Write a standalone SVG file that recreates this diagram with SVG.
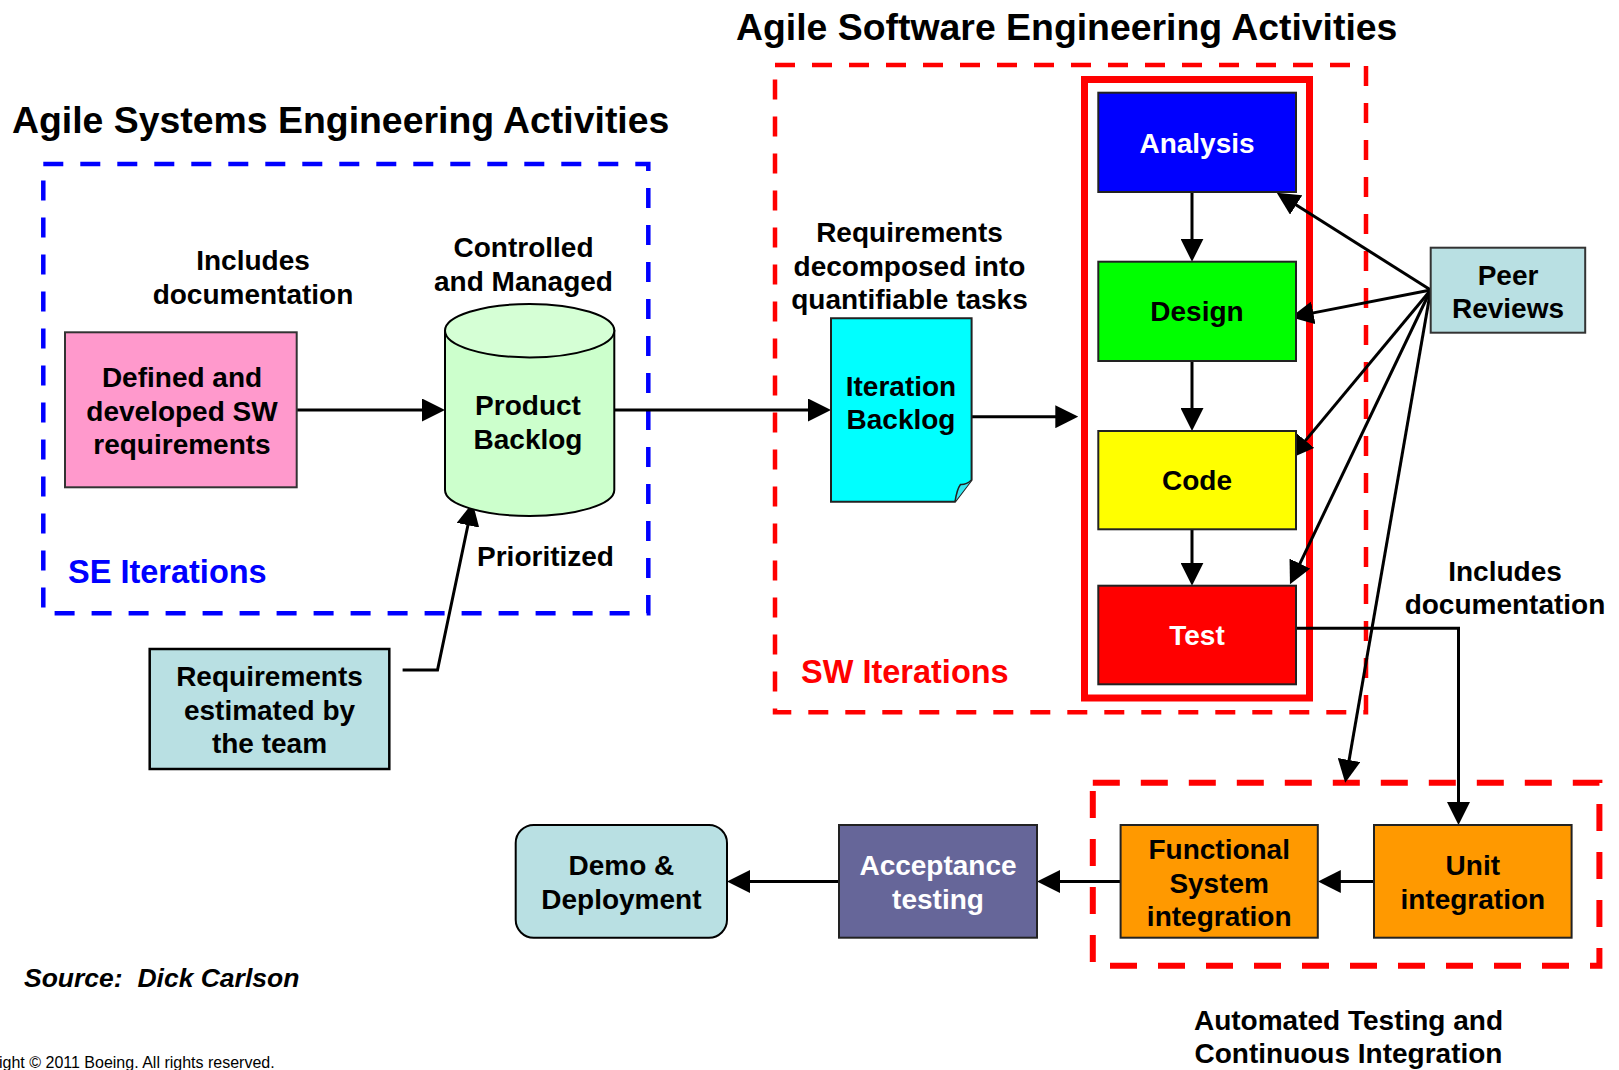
<svg xmlns="http://www.w3.org/2000/svg" width="1619" height="1070" viewBox="0 0 1619 1070">
<defs>
<marker id="ah" viewBox="0 0 23 23" markerWidth="23" markerHeight="23" markerUnits="userSpaceOnUse" refX="13" refY="11.5" orient="auto">
<path d="M0,0 L23,11.5 L0,23 Z" fill="#000"/>
</marker>
<style>
text{font-family:"Liberation Sans",Arial,Helvetica,sans-serif;font-weight:bold;font-size:28px;fill:#000;text-anchor:middle}
.title{font-size:37.4px;text-anchor:start}
.iter{font-size:32.5px;text-anchor:start}
.w{fill:#fff}
.box{stroke:#222;stroke-width:2}
.conn{fill:none;stroke:#000;stroke-width:3}
.dash{fill:none;stroke-width:4.5;stroke-dasharray:20 17}
</style>
</defs>
<rect width="1619" height="1070" fill="#fff"/>

<!-- titles and group frames -->
<text class="title" x="12" y="133">Agile Systems Engineering Activities</text>
<text class="title" x="736" y="40">Agile Software Engineering Activities</text>
<rect class="dash" x="43.3" y="164" width="605" height="449.3" stroke="#0000FF"/>
<rect class="dash" x="775" y="65" width="591" height="647.3" stroke="#FF0000"/>
<rect x="1084.5" y="79.5" width="225" height="618.5" fill="none" stroke="#FF0000" stroke-width="7"/>
<rect x="1092.8" y="782.7" width="506.6" height="183" fill="none" stroke="#FF0000" stroke-width="6" stroke-dasharray="27 21"/>
<text class="iter" x="68" y="583" style="fill:#0000FF">SE Iterations</text>
<text class="iter" x="801" y="683" style="fill:#FF0000">SW Iterations</text>

<!-- free labels -->
<text x="253" y="270">Includes</text>
<text x="253" y="303.5">documentation</text>
<text x="523.5" y="257">Controlled</text>
<text x="523.5" y="291">and Managed</text>
<text x="545.5" y="566">Prioritized</text>
<text x="909.5" y="242">Requirements</text>
<text x="909.5" y="276">decomposed into</text>
<text x="909.5" y="309">quantifiable tasks</text>
<text x="1505" y="581">Includes</text>
<text x="1505" y="614">documentation</text>
<text x="1348.5" y="1030">Automated Testing and</text>
<text x="1348.5" y="1063">Continuous Integration</text>
<text x="24" y="987" style="text-anchor:start;font-style:italic;font-size:26.5px" xml:space="preserve">Source:  Dick Carlson</text>
<text x="-1" y="1068" style="text-anchor:start;font-weight:normal;font-size:16px">ight © 2011 Boeing. All rights reserved.</text>

<!-- connectors -->
<g id="connectors">
<line class="conn" x1="296.7" y1="410" x2="435" y2="410" marker-end="url(#ah)"/>
<line class="conn" x1="614.3" y1="410" x2="821" y2="410" marker-end="url(#ah)"/>
<line class="conn" x1="966" y1="416.7" x2="1068.3" y2="416.7" marker-end="url(#ah)"/>
<line class="conn" x1="1192" y1="192" x2="1192" y2="251.7" marker-end="url(#ah)"/>
<line class="conn" x1="1192" y1="361" x2="1192" y2="421" marker-end="url(#ah)"/>
<line class="conn" x1="1192" y1="529.3" x2="1192" y2="575.7" marker-end="url(#ah)"/>
<polyline class="conn" points="402.6,670 437.5,670 470.6,512.5" stroke-width="2" marker-end="url(#ah)"/>
<line class="conn" x1="1430.7" y1="290" x2="1285.2" y2="198" marker-end="url(#ah)"/>
<line class="conn" x1="1430.7" y1="290" x2="1300.5" y2="315.4" marker-end="url(#ah)"/>
<line class="conn" x1="1430.7" y1="290" x2="1297.1" y2="450.6" marker-end="url(#ah)"/>
<line class="conn" x1="1430.7" y1="290" x2="1294.3" y2="575.3" marker-end="url(#ah)"/>
<line class="conn" x1="1430.7" y1="290" x2="1346.9" y2="772.8" stroke-width="2.5" marker-end="url(#ah)"/>
<polyline class="conn" points="1290,628.3 1458.5,628.3 1458.5,815" marker-end="url(#ah)"/>
<line class="conn" x1="1374" y1="881.5" x2="1327.8" y2="881.5" marker-end="url(#ah)"/>
<line class="conn" x1="1120.6" y1="881.5" x2="1047" y2="881.5" marker-end="url(#ah)"/>
<line class="conn" x1="839" y1="881.5" x2="737" y2="881.5" marker-end="url(#ah)"/>
</g>

<!-- nodes -->
<g id="defined-reqs">
<rect x="65" y="332.3" width="231.7" height="155" fill="#FF99CC" stroke="#333" stroke-width="2"/>
<text x="182" y="387">Defined and</text>
<text x="182" y="420.5">developed SW</text>
<text x="182" y="454">requirements</text>
</g>
<g id="product-backlog">
<path d="M445,330.7 L445,490 A84.65,26 0 0 0 614.3,490 L614.3,330.7 Z" fill="#CCFFCC" stroke="#000" stroke-width="2"/>
<ellipse cx="529.65" cy="330.7" rx="84.65" ry="26.7" fill="#D5FFD5" stroke="#000" stroke-width="2"/>
<text x="528" y="415">Product</text>
<text x="528" y="449">Backlog</text>
</g>
<g id="reqs-estimated">
<rect x="149.7" y="649" width="239.6" height="120" fill="#B9E0E3" stroke="#000" stroke-width="2.5"/>
<text x="269.5" y="686">Requirements</text>
<text x="269.5" y="719.5">estimated by</text>
<text x="269.5" y="753">the team</text>
</g>
<g id="iteration-backlog">
<path d="M831,318.3 H971.6 V480 L955,501.8 H831 Z" fill="#00FFFF" stroke="#222" stroke-width="2"/>
<path d="M955,501.8 Q957,489 960.5,484.5 Q966,485 971.6,480" fill="#33E6F0" stroke="#222" stroke-width="1.5"/>
<text x="901" y="396">Iteration</text>
<text x="901" y="429">Backlog</text>
</g>
<g id="analysis">
<rect class="box" x="1098.3" y="92.7" width="197.7" height="99.3" fill="#0000FF"/>
<text class="w" x="1197" y="152.5">Analysis</text>
</g>
<g id="design">
<rect class="box" x="1098.3" y="261.7" width="197.7" height="99.3" fill="#00FF00"/>
<text x="1197" y="321">Design</text>
</g>
<g id="code">
<rect class="box" x="1098.3" y="431" width="197.7" height="98.3" fill="#FFFF00"/>
<text x="1197" y="490">Code</text>
</g>
<g id="test">
<rect class="box" x="1098.3" y="585.7" width="197.7" height="98.6" fill="#FF0000"/>
<text class="w" x="1197" y="645">Test</text>
</g>
<g id="peer-reviews">
<rect x="1430.7" y="247.7" width="154.5" height="85" fill="#B9E0E3" stroke="#333" stroke-width="2"/>
<text x="1508" y="285">Peer</text>
<text x="1508" y="318">Reviews</text>
</g>
<g id="unit-integration">
<rect class="box" x="1374" y="825" width="197.6" height="112.7" fill="#FF9900"/>
<text x="1472.8" y="875">Unit</text>
<text x="1472.8" y="909">integration</text>
</g>
<g id="functional-integration">
<rect class="box" x="1120.6" y="825" width="197.2" height="112.7" fill="#FF9900"/>
<text x="1219.2" y="859">Functional</text>
<text x="1219.2" y="892.5">System</text>
<text x="1219.2" y="926">integration</text>
</g>
<g id="acceptance-testing">
<rect class="box" x="839" y="825" width="198" height="112.7" fill="#666699"/>
<text class="w" x="938" y="875">Acceptance</text>
<text class="w" x="938" y="909">testing</text>
</g>
<g id="demo-deployment">
<rect x="515.7" y="825" width="211.3" height="112.7" rx="18" ry="18" fill="#B9E0E3" stroke="#000" stroke-width="2"/>
<text x="621.4" y="875">Demo &amp;</text>
<text x="621.4" y="909">Deployment</text>
</g>
</svg>
